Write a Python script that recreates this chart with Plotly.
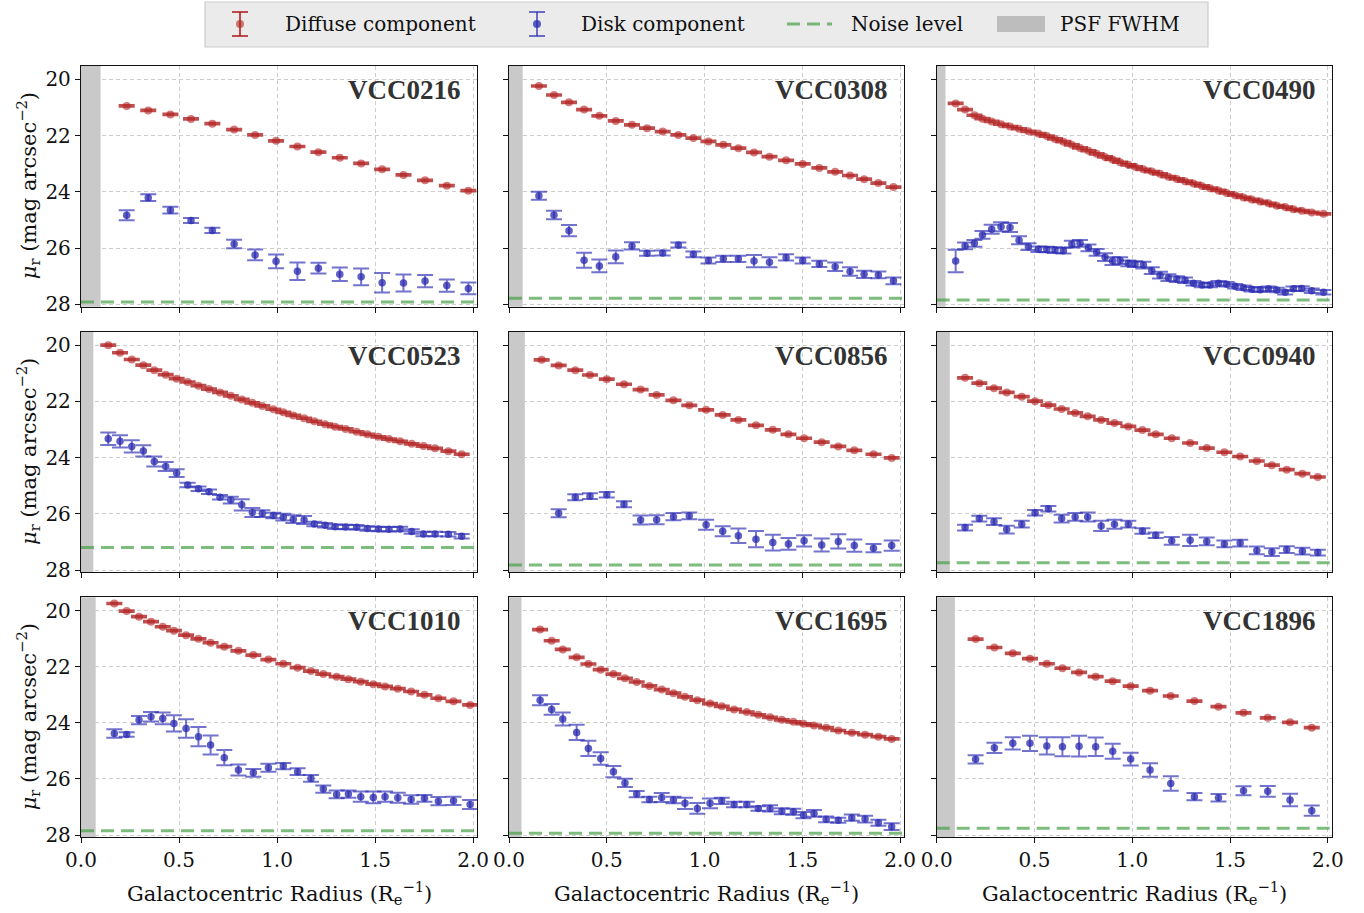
import plotly.graph_objects as go

# ---------------------------------------------------------------- data
galaxies = ["VCC0216", "VCC0308", "VCC0490",
            "VCC0523", "VCC0856", "VCC0940",
            "VCC1010", "VCC1695", "VCC1896"]

# surface-brightness noise floor (mag arcsec^-2) and PSF FWHM (in R_e)
noise_level = [27.91, 27.78, 27.84, 27.20, 27.82, 27.74, 27.85, 27.94, 27.76]
psf_fwhm = [0.100, 0.070, 0.045, 0.063, 0.081, 0.067, 0.075, 0.064, 0.093]

# uncertainty on the diffuse profiles (smaller than the markers)
diffuse_err = 0.03

# VCC0216
r_0216 = [0.233, 0.343, 0.456, 0.561, 0.670, 0.781, 0.888, 0.995, 1.104, 1.211,
          1.320, 1.429, 1.536, 1.645, 1.755, 1.866, 1.976]
diffuse_0216 = [20.95, 21.11, 21.25, 21.41, 21.58, 21.79, 21.98, 22.19, 22.39, 22.59,
                22.79, 22.99, 23.20, 23.40, 23.59, 23.78, 23.96]
disk_0216 = [24.83, 24.21, 24.65, 25.02, 25.37, 25.85, 26.24, 26.47, 26.82, 26.71,
             26.93, 27.02, 27.23, 27.24, 27.17, 27.33, 27.43]
disk_err_0216 = [0.18, 0.12, 0.12, 0.09, 0.09, 0.15, 0.19, 0.24, 0.31, 0.19,
                 0.24, 0.30, 0.35, 0.30, 0.22, 0.22, 0.21]

# VCC0308
r_0308 = [0.153, 0.230, 0.307, 0.384, 0.462, 0.546, 0.629, 0.706, 0.786, 0.866,
          0.943, 1.020, 1.096, 1.173, 1.253, 1.332, 1.417, 1.502, 1.587, 1.668,
          1.744, 1.816, 1.889, 1.966]
diffuse_0308 = [20.24, 20.56, 20.82, 21.08, 21.30, 21.48, 21.62, 21.74, 21.86, 21.98,
                22.09, 22.21, 22.33, 22.45, 22.60, 22.75, 22.88, 23.01, 23.15, 23.29,
                23.42, 23.55, 23.69, 23.83]
disk_0308 = [24.14, 24.82, 25.38, 26.43, 26.63, 26.31, 25.92, 26.18, 26.17, 25.89,
             26.22, 26.44, 26.38, 26.38, 26.46, 26.50, 26.33, 26.44, 26.56, 26.66,
             26.83, 26.93, 26.95, 27.16]
disk_err_0308 = [0.14, 0.15, 0.20, 0.27, 0.23, 0.23, 0.13, 0.09, 0.09, 0.09,
                 0.10, 0.11, 0.11, 0.11, 0.22, 0.18, 0.11, 0.11, 0.11, 0.15,
                 0.15, 0.13, 0.12, 0.12]

# VCC0490
r_0490 = [0.097, 0.145, 0.193, 0.234, 0.281, 0.329, 0.375, 0.421, 0.469, 0.520,
          0.563, 0.605, 0.648, 0.691, 0.733, 0.776, 0.818, 0.861, 0.899, 0.938,
          0.980, 1.014, 1.057, 1.100, 1.142, 1.185, 1.228, 1.270, 1.313, 1.356,
          1.398, 1.441, 1.483, 1.526, 1.569, 1.611, 1.654, 1.697, 1.739, 1.782,
          1.824, 1.867, 1.918, 1.978]
diffuse_0490 = [20.86, 21.08, 21.28, 21.40, 21.50, 21.60, 21.68, 21.76, 21.85, 21.93,
                22.02, 22.12, 22.22, 22.33, 22.44, 22.54, 22.65, 22.76, 22.85, 22.95,
                23.04, 23.11, 23.20, 23.28, 23.36, 23.46, 23.54, 23.62, 23.70, 23.79,
                23.87, 23.95, 24.04, 24.12, 24.20, 24.27, 24.34, 24.41, 24.49, 24.54,
                24.62, 24.67, 24.73, 24.78]
disk_0490 = [26.46, 25.92, 25.83, 25.53, 25.33, 25.24, 25.27, 25.72, 25.95, 26.04,
             26.05, 26.07, 26.09, 25.86, 25.83, 25.99, 26.15, 26.32, 26.46, 26.44,
             26.54, 26.57, 26.60, 26.80, 26.96, 27.05, 27.10, 27.14, 27.25, 27.31,
             27.31, 27.25, 27.28, 27.35, 27.41, 27.46, 27.48, 27.44, 27.49, 27.57,
             27.44, 27.43, 27.51, 27.57]
disk_err_0490 = [0.40, 0.12, 0.12, 0.14, 0.16, 0.16, 0.16, 0.14, 0.12, 0.10,
                 0.10, 0.10, 0.10, 0.12, 0.12, 0.12, 0.12, 0.14, 0.14, 0.12,
                 0.10, 0.10, 0.12, 0.12, 0.12, 0.12, 0.10, 0.10, 0.08, 0.08,
                 0.08, 0.08, 0.08, 0.08, 0.08, 0.08, 0.08, 0.08, 0.08, 0.08,
                 0.08, 0.08, 0.08, 0.08]

# VCC0523
r_0523 = [0.139, 0.199, 0.259, 0.318, 0.374, 0.432, 0.488, 0.544, 0.599, 0.653,
          0.709, 0.764, 0.820, 0.874, 0.925, 0.981, 1.032, 1.083, 1.138, 1.190,
          1.245, 1.296, 1.350, 1.406, 1.461, 1.517, 1.571, 1.628, 1.687, 1.747,
          1.806, 1.874, 1.942]
diffuse_0523 = [20.00, 20.27, 20.51, 20.71, 20.89, 21.05, 21.19, 21.31, 21.44, 21.56,
                21.68, 21.80, 21.93, 22.05, 22.16, 22.28, 22.39, 22.50, 22.60, 22.71,
                22.81, 22.90, 22.98, 23.08, 23.17, 23.26, 23.34, 23.42, 23.51, 23.59,
                23.67, 23.77, 23.88]
disk_0523 = [23.33, 23.42, 23.60, 23.76, 24.14, 24.32, 24.55, 24.97, 25.11, 25.21,
             25.41, 25.51, 25.68, 25.95, 25.99, 26.06, 26.12, 26.19, 26.22, 26.36,
             26.41, 26.46, 26.47, 26.48, 26.52, 26.54, 26.55, 26.54, 26.63, 26.72,
             26.72, 26.73, 26.80]
disk_err_0523 = [0.22, 0.22, 0.22, 0.20, 0.18, 0.16, 0.14, 0.08, 0.08, 0.08,
                 0.08, 0.12, 0.20, 0.16, 0.12, 0.10, 0.12, 0.14, 0.14, 0.08,
                 0.08, 0.08, 0.08, 0.08, 0.08, 0.08, 0.08, 0.08, 0.08, 0.08,
                 0.08, 0.08, 0.08]

# VCC0856
r_0856 = [0.167, 0.254, 0.339, 0.414, 0.500, 0.588, 0.673, 0.755, 0.841, 0.922,
          1.008, 1.093, 1.173, 1.263, 1.349, 1.429, 1.509, 1.599, 1.684, 1.766,
          1.864, 1.957]
diffuse_0856 = [20.52, 20.72, 20.89, 21.06, 21.21, 21.39, 21.58, 21.77, 21.96, 22.14,
                22.30, 22.48, 22.66, 22.85, 23.01, 23.17, 23.31, 23.45, 23.60, 23.74,
                23.88, 24.01]
disk_0856 = [None, 25.98, 25.41, 25.37, 25.32, 25.66, 26.22, 26.21, 26.10, 26.07,
             26.39, 26.62, 26.78, 26.90, 27.02, 27.07, 26.96, 27.11, 26.98, 27.13,
             27.22, 27.13]
disk_err_0856 = [0.0, 0.14, 0.11, 0.10, 0.10, 0.11, 0.16, 0.16, 0.13, 0.12,
                 0.18, 0.18, 0.26, 0.29, 0.28, 0.21, 0.20, 0.23, 0.25, 0.22,
                 0.15, 0.18]

# VCC0940
r_0940 = [0.145, 0.218, 0.293, 0.358, 0.435, 0.503, 0.571, 0.639, 0.708, 0.772,
          0.841, 0.909, 0.980, 1.052, 1.120, 1.202, 1.296, 1.381, 1.471, 1.552,
          1.637, 1.714, 1.790, 1.870, 1.949]
diffuse_0940 = [21.16, 21.35, 21.53, 21.68, 21.83, 21.99, 22.13, 22.27, 22.41, 22.53,
                22.66, 22.77, 22.89, 23.02, 23.17, 23.31, 23.48, 23.66, 23.81, 23.96,
                24.12, 24.27, 24.43, 24.57, 24.69]
disk_0940 = [26.49, 26.17, 26.28, 26.56, 26.37, 25.96, 25.82, 26.17, 26.11, 26.11,
             26.43, 26.37, 26.37, 26.61, 26.76, 26.96, 26.94, 26.98, 27.07, 27.04,
             27.30, 27.36, 27.27, 27.33, 27.38]
disk_err_0940 = [0.10, 0.10, 0.12, 0.14, 0.12, 0.10, 0.10, 0.14, 0.14, 0.16,
                 0.18, 0.16, 0.12, 0.10, 0.10, 0.14, 0.20, 0.14, 0.12, 0.12,
                 0.14, 0.14, 0.12, 0.12, 0.10]

# VCC1010
r_1010 = [0.170, 0.233, 0.296, 0.357, 0.417, 0.474, 0.536, 0.599, 0.661, 0.731,
          0.803, 0.879, 0.956, 1.032, 1.105, 1.173, 1.236, 1.304, 1.364, 1.427,
          1.491, 1.551, 1.616, 1.684, 1.752, 1.823, 1.900, 1.985]
diffuse_1010 = [19.74, 20.01, 20.21, 20.39, 20.57, 20.71, 20.87, 21.00, 21.14, 21.28,
                21.43, 21.58, 21.74, 21.89, 22.03, 22.15, 22.26, 22.35, 22.44, 22.53,
                22.62, 22.70, 22.78, 22.88, 23.00, 23.12, 23.23, 23.36]
disk_1010 = [24.38, 24.41, 23.90, 23.78, 23.84, 24.02, 24.20, 24.49, 24.79, 25.24,
             25.68, 25.78, 25.60, 25.54, 25.74, 25.98, 26.36, 26.55, 26.54, 26.63,
             26.66, 26.63, 26.67, 26.73, 26.69, 26.79, 26.78, 26.91]
disk_err_1010 = [0.15, 0.08, 0.15, 0.17, 0.21, 0.29, 0.33, 0.34, 0.34, 0.27,
                 0.20, 0.14, 0.14, 0.11, 0.12, 0.12, 0.13, 0.14, 0.13, 0.18,
                 0.21, 0.18, 0.18, 0.15, 0.12, 0.15, 0.15, 0.16]

# VCC1695
r_1695 = [0.159, 0.218, 0.275, 0.346, 0.406, 0.469, 0.534, 0.593, 0.653, 0.718,
          0.781, 0.841, 0.900, 0.963, 1.028, 1.088, 1.151, 1.216, 1.275, 1.335,
          1.395, 1.454, 1.506, 1.560, 1.622, 1.684, 1.753, 1.821, 1.889, 1.957]
diffuse_1695 = [20.67, 21.07, 21.38, 21.66, 21.90, 22.10, 22.26, 22.41, 22.54, 22.68,
                22.81, 22.94, 23.07, 23.19, 23.31, 23.41, 23.52, 23.61, 23.71, 23.80,
                23.89, 23.96, 24.03, 24.09, 24.17, 24.27, 24.35, 24.42, 24.49, 24.57]
disk_1695 = [23.19, 23.52, 23.86, 24.34, 24.91, 25.27, 25.74, 26.14, 26.54, 26.73,
             26.66, 26.75, 26.87, 27.05, 26.87, 26.78, 26.91, 26.91, 27.05, 27.05,
             27.15, 27.17, 27.29, 27.23, 27.44, 27.47, 27.38, 27.43, 27.56, 27.70]
disk_err_1695 = [0.18, 0.19, 0.23, 0.27, 0.27, 0.22, 0.20, 0.15, 0.11, 0.10,
                 0.16, 0.12, 0.20, 0.19, 0.17, 0.11, 0.10, 0.10, 0.08, 0.11,
                 0.11, 0.11, 0.11, 0.12, 0.10, 0.09, 0.11, 0.12, 0.11, 0.12]

# VCC1896
r_1896 = [0.199, 0.295, 0.389, 0.477, 0.563, 0.643, 0.728, 0.813, 0.900, 0.992,
          1.091, 1.197, 1.318, 1.441, 1.569, 1.693, 1.807, 1.918]
diffuse_1896 = [21.01, 21.31, 21.52, 21.71, 21.89, 22.05, 22.20, 22.35, 22.51, 22.69,
                22.85, 23.04, 23.22, 23.42, 23.64, 23.82, 23.98, 24.17]
disk_1896 = [25.30, 24.89, 24.73, 24.73, 24.82, 24.85, 24.83, 24.85, 25.01, 25.29,
             25.68, 26.16, 26.63, 26.67, 26.42, 26.44, 26.75, 27.13]
disk_err_1896 = [0.15, 0.18, 0.22, 0.27, 0.31, 0.34, 0.37, 0.33, 0.27, 0.23,
                 0.24, 0.26, 0.13, 0.13, 0.16, 0.19, 0.22, 0.18]

profiles = [
    (r_0216, diffuse_0216, disk_0216, disk_err_0216),
    (r_0308, diffuse_0308, disk_0308, disk_err_0308),
    (r_0490, diffuse_0490, disk_0490, disk_err_0490),
    (r_0523, diffuse_0523, disk_0523, disk_err_0523),
    (r_0856, diffuse_0856, disk_0856, disk_err_0856),
    (r_0940, diffuse_0940, disk_0940, disk_err_0940),
    (r_1010, diffuse_1010, disk_1010, disk_err_1010),
    (r_1695, diffuse_1695, disk_1695, disk_err_1695),
    (r_1896, diffuse_1896, disk_1896, disk_err_1896),
]

legend_labels = ["Diffuse component", "Disk component", "Noise level", "PSF FWHM"]

# ---------------------------------------------------------------- style
W, H = 1364, 913
FONT = "DejaVu Serif"
LABEL_FONT = "Liberation Serif"
X_RANGE = [0, 2.02]
Y_RANGE = [28.08, 19.52]          # magnitudes: brighter at the top

RED_ERR = "rgba(178,34,34,0.80)"
RED_MK = "rgba(178,34,34,0.60)"
BLUE_ERR = "rgba(40,40,180,0.65)"
BLUE_MK = "rgba(40,40,175,0.75)"
GREEN = "rgba(70,160,70,0.70)"
PSF_GRAY = "#c9c9c9"

# panel frames in pixels (left, right) and (top, bottom)
col_px = [(81, 477), (509, 904), (936.7, 1331.7)]
row_px = [(65.7, 306.7), (331.7, 572.3), (597.3, 837.3)]

fig = go.Figure()
layout = {}

for k, name in enumerate(galaxies):
    row, col = divmod(k, 3)
    ax = "" if k == 0 else str(k + 1)
    xa, ya = "x" + ax, "y" + ax
    r, diff, disk, disk_err = profiles[k]

    # PSF FWHM band
    f = psf_fwhm[k]
    fig.add_trace(go.Scatter(
        x=[0, f, f, 0, 0], y=[30, 30, 18, 18, 30], xaxis=xa, yaxis=ya,
        mode="lines", fill="toself", fillcolor=PSF_GRAY,
        line=dict(width=0, color=PSF_GRAY), hoverinfo="skip",
        name="PSF FWHM", showlegend=False))

    # noise level
    fig.add_trace(go.Scatter(
        x=X_RANGE, y=[noise_level[k]] * 2, xaxis=xa, yaxis=ya,
        mode="lines", line=dict(color=GREEN, width=3, dash="13px,7px"),
        name="Noise level", showlegend=False))

    # diffuse component
    fig.add_trace(go.Scatter(
        x=r, y=diff, xaxis=xa, yaxis=ya, mode="markers",
        marker=dict(size=8, color=RED_MK),
        error_y=dict(type="constant", value=diffuse_err, color=RED_ERR,
                     thickness=2, width=8),
        name="Diffuse component", showlegend=False))

    # disk component
    fig.add_trace(go.Scatter(
        x=r, y=disk, xaxis=xa, yaxis=ya, mode="markers",
        marker=dict(size=7.5, color=BLUE_MK),
        error_y=dict(type="data", array=disk_err, color=BLUE_ERR,
                     thickness=2, width=8),
        name="Disk component", showlegend=False))

    x0, x1 = col_px[col]
    t, b = row_px[row]
    common = dict(showline=True, mirror=True, linecolor="#111", linewidth=1.3,
                  ticks="outside", ticklen=5, tickwidth=1.2, tickcolor="#111",
                  showgrid=True, gridcolor="#cdcdcd", gridwidth=1,
                  griddash="4px,3px", zeroline=False, automargin=False,
                  tickfont=dict(family=FONT, size=20, color="#111"))
    layout["xaxis" + ax] = dict(
        common, domain=[x0 / W, x1 / W], range=X_RANGE, anchor=ya,
        tickvals=[0, 0.5, 1.0, 1.5, 2.0], ticktext=["0.0", "0.5", "1.0", "1.5", "2.0"],
        showticklabels=(row == 2))
    layout["yaxis" + ax] = dict(
        common, domain=[1 - b / H, 1 - t / H], range=Y_RANGE, anchor=xa,
        tickvals=[20, 22, 24, 26, 28], showticklabels=(col == 0))

    fig.add_annotation(
        text="<b>%s</b>" % name, xref=xa + " domain", yref=ya + " domain",
        x=0.965, y=0.90, xanchor="right", yanchor="middle", showarrow=False,
        font=dict(family=LABEL_FONT, size=27, color="#333"))

# axis titles
for col in range(3):
    x0, x1 = col_px[col]
    fig.add_annotation(
        text="Galactocentric Radius (R<sub>e</sub><sup>−1</sup>)",
        xref="paper", yref="paper", x=(x0 + x1) / 2 / W, y=1 - 893 / H,
        xanchor="center", yanchor="middle", showarrow=False,
        font=dict(family=FONT, size=21, color="#111"))
for row in range(3):
    t, b = row_px[row]
    fig.add_annotation(
        text="<i>μ</i><sub>r</sub> (mag arcsec<sup>−2</sup>)",
        xref="paper", yref="paper", x=28 / W, y=1 - (t + b) / 2 / H,
        xanchor="center", yanchor="middle", textangle=-90, showarrow=False,
        font=dict(family=FONT, size=21, color="#111"))

# ---------------------------------------------------------------- legend
def px(x):
    return x / W


def py(y):
    return 1 - y / H


shapes = []
shapes.append(dict(type="rect", xref="paper", yref="paper",
                   x0=px(205), x1=px(1208), y0=py(47), y1=py(2),
                   fillcolor="#ebebeb", line=dict(color="#cccccc", width=1.2),
                   layer="below"))
# error-bar glyphs for the two profile components
for cx, ecol, mcol in [(240, RED_ERR, RED_MK), (537, BLUE_ERR, BLUE_MK)]:
    shapes.append(dict(type="line", xref="paper", yref="paper",
                       x0=px(cx), x1=px(cx), y0=py(12), y1=py(36),
                       line=dict(color=ecol, width=2)))
    for cy in (12, 36):
        shapes.append(dict(type="line", xref="paper", yref="paper",
                           x0=px(cx - 8), x1=px(cx + 8), y0=py(cy), y1=py(cy),
                           line=dict(color=ecol, width=2)))
    shapes.append(dict(type="circle", xref="paper", yref="paper",
                       x0=px(cx - 4), x1=px(cx + 4), y0=py(28), y1=py(20),
                       fillcolor=mcol, line=dict(width=0)))
# noise-level glyph
shapes.append(dict(type="line", xref="paper", yref="paper",
                   x0=px(787), x1=px(832), y0=py(24), y1=py(24),
                   line=dict(color=GREEN, width=3, dash="13px,7px")))
# PSF glyph
shapes.append(dict(type="rect", xref="paper", yref="paper",
                   x0=px(997), x1=px(1045), y0=py(32), y1=py(16),
                   fillcolor="#bdbdbd", line=dict(width=0)))

text_start = [285, 581, 851, 1060]
for label, xs in zip(legend_labels, text_start):
    fig.add_annotation(text=label, xref="paper", yref="paper",
                       x=px(xs), y=py(24), xanchor="left", yanchor="middle",
                       showarrow=False, xshift=-2,
                       font=dict(family=FONT, size=20, color="#111"))

fig.update_layout(
    width=W, height=H, margin=dict(l=0, r=0, t=0, b=0),
    paper_bgcolor="white", plot_bgcolor="white", showlegend=False,
    font=dict(family=FONT, color="#111"), shapes=shapes,
    **layout)

fig.write_html("out.html")
